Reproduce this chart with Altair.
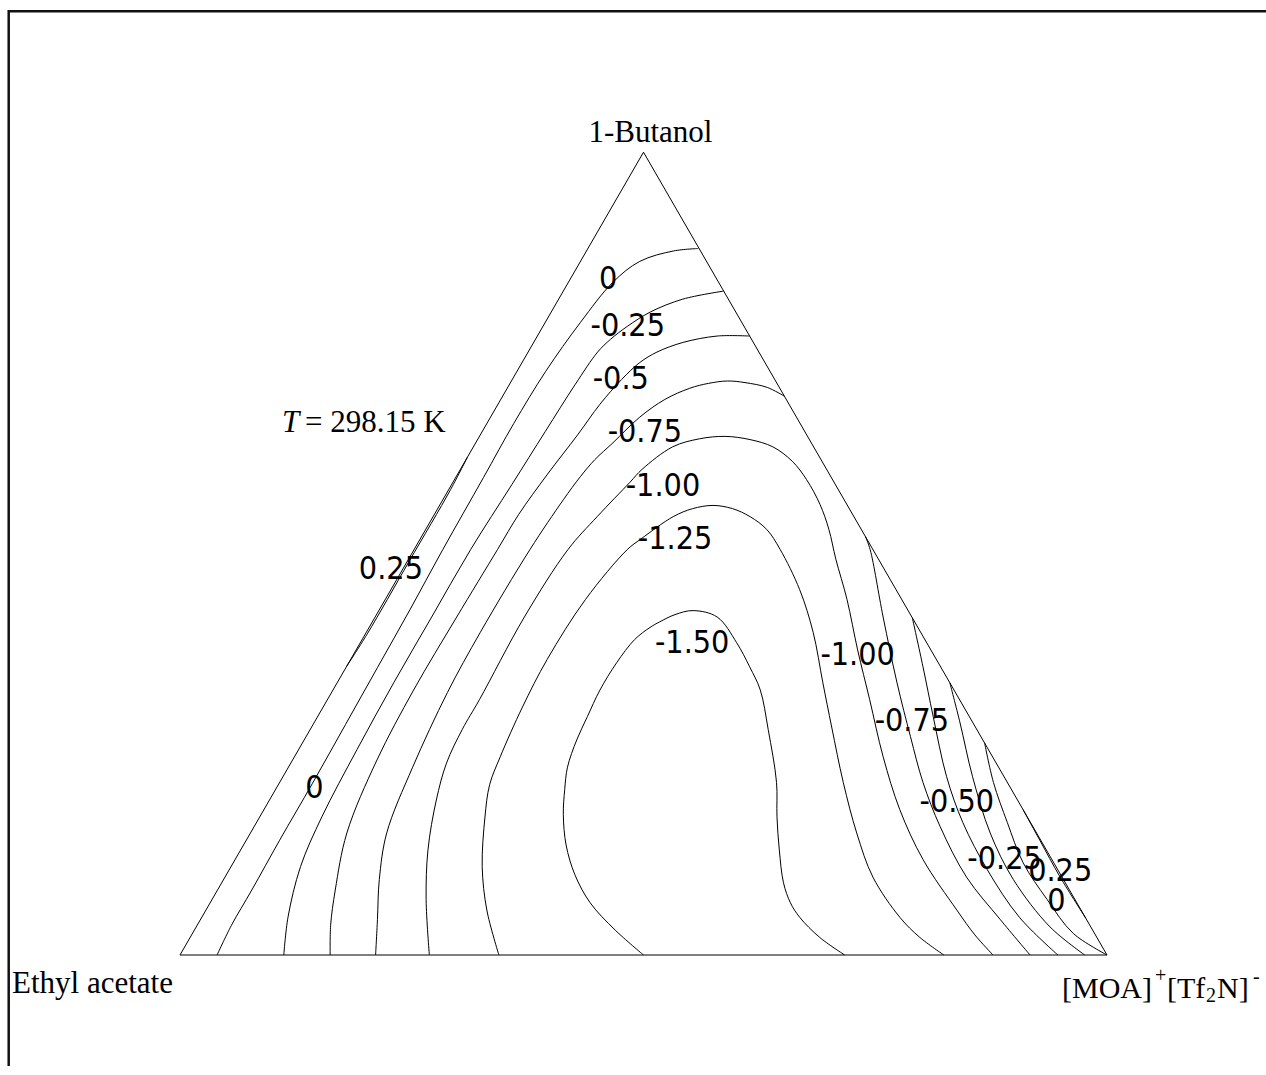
import altair as alt
import pandas as pd

# Ternary compositions (mole fractions):
#   x_IL = [MOA]+[Tf2N]- (right vertex), x_BU = 1-butanol (top vertex),
#   x_EA = 1 - x_IL - x_BU (ethyl acetate, left vertex)

# ---- contour lines (x_IL, x_BU) ----
P025_LEFT_IL = [0.000, 0.002, 0.002, 0.002, 0.000]
P025_LEFT_BU = [0.36, 0.40, 0.49, 0.58, 0.62]

Z_LEFT_IL = [0.119, 0.094, 0.064, 0.048, 0.038, 0.031, 0.029, 0.030, 0.031, 0.033,
             0.034, 0.035, 0.036, 0.036, 0.037, 0.037, 0.040]
Z_LEFT_BU = [0.880, 0.877, 0.864, 0.838, 0.788, 0.727, 0.662, 0.595, 0.505, 0.430,
             0.358, 0.287, 0.214, 0.143, 0.081, 0.037, 0.000]

M025_IL = [0.173, 0.134, 0.107, 0.091, 0.081, 0.075, 0.071, 0.068, 0.065, 0.061,
           0.061, 0.061, 0.063, 0.067, 0.075, 0.093, 0.112]
M025_BU = [0.827, 0.817, 0.801, 0.783, 0.767, 0.751, 0.711, 0.652, 0.586, 0.505,
           0.421, 0.339, 0.256, 0.172, 0.110, 0.047, 0.000]

M050_IL = [0.229, 0.194, 0.161, 0.139, 0.127, 0.118, 0.110, 0.105, 0.097, 0.091,
           0.090, 0.088, 0.087, 0.091, 0.104, 0.127, 0.144, 0.162]
M050_BU = [0.771, 0.771, 0.763, 0.751, 0.738, 0.717, 0.686, 0.648, 0.599, 0.549,
           0.505, 0.421, 0.330, 0.243, 0.152, 0.081, 0.037, 0.000]

M075_IL = [0.304, 0.280, 0.253, 0.233, 0.214, 0.197, 0.177, 0.161, 0.148, 0.139,
           0.134, 0.130, 0.125, 0.123, 0.125, 0.134, 0.147, 0.168, 0.191, 0.211]
M075_BU = [0.696, 0.707, 0.713, 0.715, 0.712, 0.706, 0.692, 0.670, 0.638, 0.617,
           0.596, 0.567, 0.505, 0.402, 0.327, 0.234, 0.152, 0.094, 0.044, 0.000]

M100_IL = [0.269, 0.231, 0.202, 0.180, 0.168, 0.164, 0.164, 0.161, 0.166, 0.177,
           0.191, 0.196, 0.215, 0.239, 0.265, 0.294, 0.323, 0.353, 0.380, 0.410,
           0.435, 0.461, 0.498, 0.541, 0.585, 0.635, 0.686, 0.742, 0.810, 0.845,
           0.877]
M100_BU = [0.000, 0.069, 0.131, 0.193, 0.239, 0.281, 0.318, 0.421, 0.505, 0.546,
           0.589, 0.605, 0.633, 0.643, 0.646, 0.642, 0.633, 0.615, 0.592, 0.561,
           0.530, 0.493, 0.443, 0.380, 0.318, 0.247, 0.181, 0.119, 0.056, 0.025,
           0.000]

M125_IL = [0.344, 0.303, 0.271, 0.243, 0.228, 0.222, 0.215, 0.212, 0.216, 0.230,
           0.238, 0.259, 0.275, 0.295, 0.318, 0.342, 0.368, 0.395, 0.441, 0.482,
           0.524, 0.561, 0.608, 0.654, 0.699, 0.753, 0.787, 0.824]
M125_BU = [0.000, 0.056, 0.110, 0.172, 0.212, 0.247, 0.309, 0.368, 0.443, 0.505,
           0.518, 0.546, 0.556, 0.560, 0.556, 0.546, 0.530, 0.505, 0.455, 0.402,
           0.339, 0.284, 0.215, 0.152, 0.097, 0.047, 0.022, 0.000]

M150_IL = [0.500, 0.454, 0.410, 0.376, 0.348, 0.326, 0.312, 0.301, 0.294, 0.291,
           0.288, 0.289, 0.294, 0.303, 0.310, 0.322, 0.339, 0.369, 0.406, 0.435,
           0.461, 0.494, 0.536, 0.558, 0.581, 0.606, 0.626, 0.645, 0.679, 0.717]
M150_BU = [0.000, 0.031, 0.065, 0.100, 0.137, 0.175, 0.206, 0.234, 0.268, 0.297,
           0.330, 0.364, 0.393, 0.408, 0.415, 0.424, 0.429, 0.421, 0.389, 0.359,
           0.330, 0.281, 0.215, 0.172, 0.131, 0.090, 0.065, 0.047, 0.022, 0.000]

M075_RIGHT_IL = [0.479, 0.492, 0.548, 0.604, 0.652, 0.694, 0.740, 0.800, 0.863, 0.917]
M075_RIGHT_BU = [0.521, 0.505, 0.421, 0.339, 0.272, 0.215, 0.160, 0.097, 0.044, 0.000]

M050_RIGHT_IL = [0.580, 0.622, 0.664, 0.716, 0.762, 0.818, 0.882, 0.947]
M050_RIGHT_BU = [0.420, 0.359, 0.297, 0.222, 0.165, 0.106, 0.047, 0.000]

M025_RIGHT_IL = [0.661, 0.697, 0.744, 0.798, 0.852, 0.921, 0.976]
M025_RIGHT_BU = [0.339, 0.289, 0.222, 0.152, 0.094, 0.035, 0.000]

Z_RIGHT_IL = [0.736, 0.770, 0.810, 0.852, 0.901, 0.950, 1.000]
Z_RIGHT_BU = [0.264, 0.215, 0.165, 0.115, 0.069, 0.027, 0.000]

P025_RIGHT_IL = [0.819, 0.856, 0.901, 0.954]
P025_RIGHT_BU = [0.181, 0.143, 0.097, 0.046]

SEGMENTS = [
    ("0.25 left", P025_LEFT_IL, P025_LEFT_BU),
    ("0 left", Z_LEFT_IL, Z_LEFT_BU),
    ("-0.25", M025_IL, M025_BU),
    ("-0.5", M050_IL, M050_BU),
    ("-0.75", M075_IL, M075_BU),
    ("-1.00", M100_IL, M100_BU),
    ("-1.25", M125_IL, M125_BU),
    ("-1.50", M150_IL, M150_BU),
    ("-0.75 right", M075_RIGHT_IL, M075_RIGHT_BU),
    ("-0.50 right", M050_RIGHT_IL, M050_RIGHT_BU),
    ("-0.25 right", M025_RIGHT_IL, M025_RIGHT_BU),
    ("0 right", Z_RIGHT_IL, Z_RIGHT_BU),
    ("0.25 right", P025_RIGHT_IL, P025_RIGHT_BU),
]

# ---- contour labels ----
LABEL_TEXT = ["0", "-0.25", "-0.5", "-0.75", "-1.00", "-1.25", "-1.50",
              "0.25", "0",
              "-1.00", "-0.75", "-0.50", "-0.25", "0.25", "0"]
LABEL_IL = [0.041, 0.091, 0.117, 0.176, 0.229, 0.275, 0.358,
            -0.013, 0.041,
            0.544, 0.644, 0.743, 0.830, 0.897, 0.912]
LABEL_BU = [0.842, 0.784, 0.717, 0.651, 0.584, 0.518, 0.389,
            0.481, 0.208,
            0.374, 0.291, 0.190, 0.119, 0.105, 0.067]

# ---- triangle vertices (x_IL, x_BU): ethyl acetate, IL, 1-butanol ----
VERT_IL = [0.0, 1.0, 0.0, 0.0]
VERT_BU = [0.0, 0.0, 1.0, 0.0]

# temperature annotation anchor (ternary coordinates, outside the triangle)
T_IL = [-0.2155]
T_BU = [0.6509]

SQ3 = 0.8660254


def plane(il, bu):
    return il + bu / 2.0, bu * SQ3


rows = []
for name, ils, bus in SEGMENTS:
    for i, (a, b) in enumerate(zip(ils, bus)):
        X, Y = plane(a, b)
        rows.append({"seg": name, "i": i, "X": X, "Y": Y})
lines_df = pd.DataFrame(rows)

tri_rows = []
for i, (a, b) in enumerate(zip(VERT_IL, VERT_BU)):
    X, Y = plane(a, b)
    tri_rows.append({"i": i, "X": X, "Y": Y})
tri_df = pd.DataFrame(tri_rows)

lab_rows = []
for t, a, b in zip(LABEL_TEXT, LABEL_IL, LABEL_BU):
    X, Y = plane(a, b)
    lab_rows.append({"text": t, "X": X, "Y": Y})
lab_df = pd.DataFrame(lab_rows)

Xt, Yt = plane(T_IL[0], T_BU[0])
t_df = pd.DataFrame({"X": [Xt], "Y": [Yt]})


def vertex_df(k):
    X, Y = plane(VERT_IL[k], VERT_BU[k])
    return pd.DataFrame({"X": [X], "Y": [Y]})


W, H = 1258, 1056
xs = alt.Scale(domain=[-0.185545, 1.171521], nice=False, zero=False)
ys = alt.Scale(domain=[-0.119741, 1.019417], nice=False, zero=False)
enc_x = alt.X("X:Q", scale=xs, axis=None)
enc_y = alt.Y("Y:Q", scale=ys, axis=None)

SERIF = "Liberation Serif"
LABEL_FONT = "Liberation Sans Narrow, DejaVu Sans Condensed, Liberation Sans"

contours = alt.Chart(lines_df).mark_line(
    color="black", strokeWidth=1, interpolate="catmull-rom"
).encode(x=enc_x, y=enc_y, detail="seg:N", order="i:Q")

triangle = alt.Chart(tri_df).mark_line(color="black", strokeWidth=1).encode(
    x=enc_x, y=enc_y, order="i:Q"
)

labels = alt.Chart(lab_df).mark_text(
    font=LABEL_FONT, fontSize=32, color="black", align="center", baseline="middle"
).encode(x=enc_x, y=enc_y, text="text:N")


def vtext(k, txt, **kw):
    return alt.Chart(vertex_df(k)).mark_text(
        font=SERIF, color="black", baseline="alphabetic", **kw
    ).encode(x=enc_x, y=enc_y, text=alt.value(txt))


butanol = vtext(2, "1-Butanol", fontSize=31, align="center", dx=7, dy=-10)
ethyl = vtext(0, "Ethyl acetate", fontSize=31, align="left", dx=-168, dy=38)
moa1 = vtext(1, "[MOA]", fontSize=30, align="left", dx=-45, dy=43)
moa2 = vtext(1, "+", fontSize=20, align="left", dx=48, dy=27)
moa3 = vtext(1, "[Tf", fontSize=30, align="left", dx=60, dy=43)
moa4 = vtext(1, "2", fontSize=20, align="left", dx=99, dy=47)
moa5 = vtext(1, "N]", fontSize=30, align="left", dx=110, dy=43)
moa6 = vtext(1, "-", fontSize=20, align="left", dx=146, dy=28)

t_italic = alt.Chart(t_df).mark_text(
    font=SERIF, fontSize=31, fontStyle="italic", color="black",
    align="left", baseline="alphabetic"
).encode(x=enc_x, y=enc_y, text=alt.value("T"))
t_rest = alt.Chart(t_df).mark_text(
    font=SERIF, fontSize=31, color="black", align="left", baseline="alphabetic", dx=23
).encode(x=enc_x, y=enc_y, text=alt.value("= 298.15 K"))

frame_src = pd.DataFrame({"k": [0]})
frame_top = alt.Chart(frame_src).mark_rule(color="#111111", strokeWidth=2.5).encode(
    x=alt.value(0), x2=alt.value(W), y=alt.value(1.3)
)
frame_left = alt.Chart(frame_src).mark_rule(color="#111111", strokeWidth=2.5).encode(
    x=alt.value(0.7), y=alt.value(0), y2=alt.value(H)
)

chart = alt.layer(
    frame_top, frame_left, triangle, contours, labels,
    butanol, ethyl, moa1, moa2, moa3, moa4, moa5, moa6, t_italic, t_rest
).properties(
    width=W, height=H,
    autosize=alt.AutoSizeParams(type="none"),
    padding={"left": 8, "top": 10, "right": 0, "bottom": 0},
    background="white",
).configure_view(stroke=None)

chart.save("out.html", embed_options={"renderer": "svg", "actions": False})
